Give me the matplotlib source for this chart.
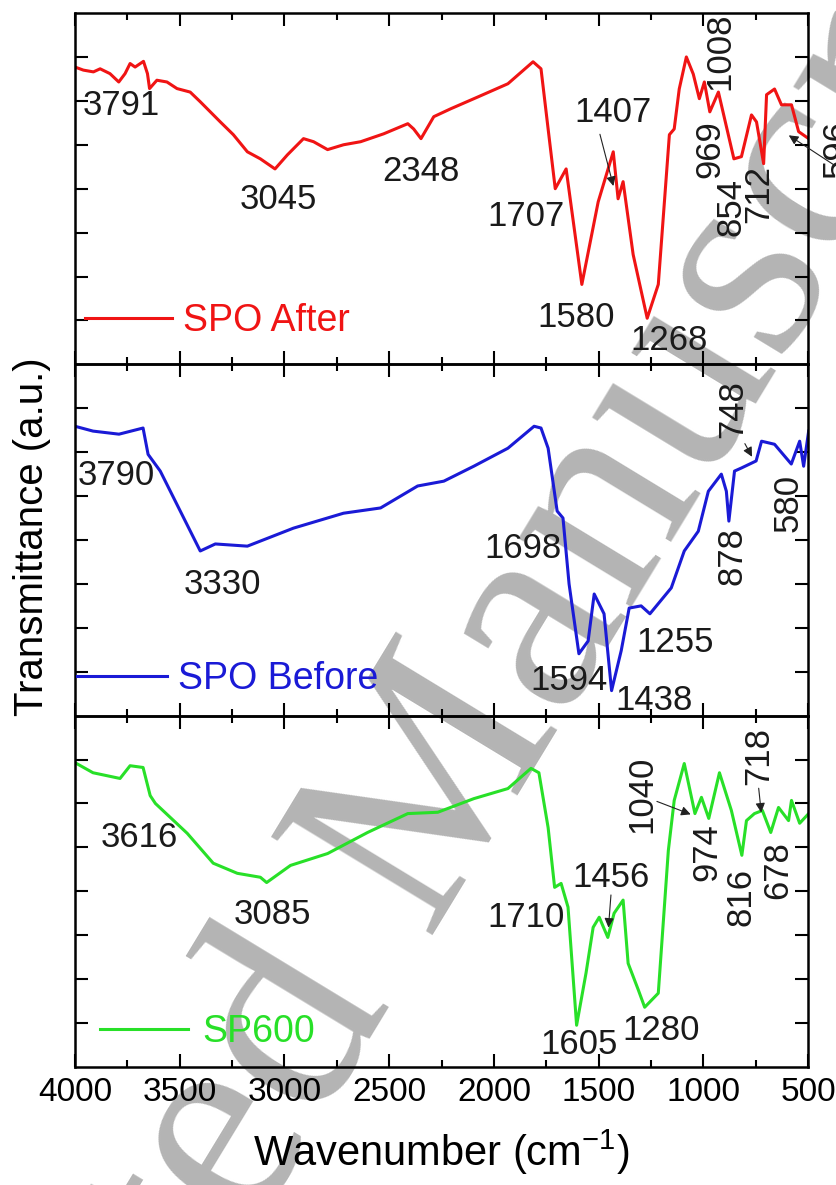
import matplotlib.pyplot as plt
from matplotlib.ticker import MultipleLocator

plt.rcParams['font.family'] = ['Liberation Sans', 'DejaVu Sans']
plt.rcParams['mathtext.default'] = 'regular'

# FTIR spectra (wavenumber in cm^-1, transmittance in a.u.)
wn_after = [4000, 3960, 3912, 3880, 3833, 3791, 3761, 3737, 3713, 3673, 3654, 3644,
            3609, 3561, 3513, 3450, 3402, 3306, 3244, 3177, 3115, 3045, 2986, 2909,
            2861, 2794, 2718, 2636, 2526, 2411, 2383, 2348, 2287, 2206, 2076, 1933,
            1813, 1775, 1741, 1707, 1655, 1580, 1502, 1430, 1407, 1383, 1335, 1268,
            1215, 1162, 1139, 1115, 1081, 1048, 1019, 995, 969, 928, 854, 818, 770,
            746, 712, 698, 660, 627, 579, 545, 497]
t_after = [6.77, 6.70, 6.66, 6.73, 6.62, 6.43, 6.62, 6.85, 6.77, 6.90, 6.62, 6.28,
           6.47, 6.43, 6.28, 6.20, 5.98, 5.52, 5.23, 4.84, 4.68, 4.45, 4.77, 5.14,
           5.07, 4.89, 5.00, 5.07, 5.25, 5.48, 5.36, 5.14, 5.64, 5.82, 6.09, 6.39,
           6.89, 6.73, 5.36, 4.00, 4.45, 1.82, 3.70, 4.84, 3.77, 4.16, 2.50, 1.05,
           1.82, 5.23, 5.36, 6.27, 7.00, 6.61, 6.05, 6.43, 5.75, 6.20, 4.68, 4.73,
           5.68, 5.52, 4.57, 6.14, 6.27, 5.91, 5.91, 5.30, 5.14]

wn_before = [4000, 3914, 3790, 3675, 3651, 3593, 3402, 3330, 3177, 2957, 2718, 2541,
             2364, 2239, 2096, 1933, 1808, 1775, 1741, 1698, 1670, 1641, 1594, 1550,
             1521, 1474, 1438, 1392, 1354, 1297, 1255, 1153, 1091, 1024, 976, 914,
             890, 878, 851, 818, 748, 722, 660, 580, 540, 521, 497]
t_before = [6.59, 6.48, 6.41, 6.55, 5.95, 5.57, 3.75, 3.91, 3.86, 4.27, 4.61, 4.73,
            5.23, 5.34, 5.68, 6.09, 6.59, 6.55, 6.09, 4.66, 4.50, 3.00, 1.41, 1.70,
            2.77, 2.32, 0.57, 1.48, 2.45, 2.50, 2.32, 2.91, 3.75, 4.20, 5.11, 5.50,
            5.11, 4.43, 5.57, 5.64, 5.80, 6.25, 6.18, 5.73, 6.25, 5.68, 6.48]

wn_sp600 = [4000, 3914, 3785, 3737, 3675, 3641, 3616, 3464, 3340, 3225, 3115, 3085,
            2971, 2794, 2603, 2411, 2268, 2096, 1933, 1823, 1785, 1741, 1710, 1679,
            1646, 1605, 1560, 1526, 1497, 1456, 1426, 1383, 1359, 1310, 1280, 1215,
            1167, 1139, 1091, 1040, 1009, 974, 923, 866, 816, 794, 756, 718, 678,
            641, 593, 579, 540, 497]
t_sp600 = [6.93, 6.70, 6.57, 6.86, 6.82, 6.18, 6.00, 5.32, 4.64, 4.41, 4.32, 4.20,
           4.59, 4.86, 5.34, 5.77, 5.80, 6.11, 6.34, 6.80, 6.70, 5.45, 4.09, 4.18,
           3.64, 0.95, 2.14, 3.18, 3.41, 2.95, 3.50, 3.80, 2.36, 1.75, 1.36, 1.68,
           4.93, 6.07, 6.91, 5.77, 6.14, 5.66, 6.70, 5.84, 4.82, 5.61, 5.77, 5.84,
           5.34, 5.91, 5.61, 6.07, 5.55, 5.77]

# peak labels: (text, x, y, rotation)
peaks_after = [('3791', 3780, 5.89, 0), ('3045', 3029, 3.75, 0), ('2348', 2349, 4.39, 0),
               ('1707', 1847, 3.36, 0), ('1407', 1430, 5.73, 0), ('1580', 1607, 1.07, 0),
               ('1268', 1162, 0.55, 0), ('969', 971, 4.91, 90), ('1008', 919, 7.14, 90),
               ('854', 866, 3.59, 90), ('712', 737, 3.89, 90), ('596', 363, 4.91, 90)]
peaks_before = [('3790', 3804, 5.48, 0), ('3330', 3297, 2.98, 0), ('1698', 1861, 3.80, 0),
                ('1594', 1641, 0.80, 0), ('1438', 1234, 0.34, 0), ('1255', 1134, 1.66, 0),
                ('878', 861, 3.64, 90), ('748', 861, 6.98, 90), ('580', 593, 4.84, 90)]
peaks_sp600 = [('3616', 3694, 5.23, 0), ('3085', 3057, 3.48, 0), ('1710', 1847, 3.41, 0),
               ('1456', 1440, 4.32, 0), ('1605', 1593, 0.52, 0), ('1280', 1201, 0.84, 0),
               ('1040', 1292, 6.20, 90), ('974', 981, 4.89, 90), ('816', 818, 3.86, 90),
               ('678', 646, 4.48, 90), ('718', 737, 7.09, 90)]

# arrows: (tail, head)
arrows_after = [((1497, 5.30), (1426, 4.0)), ((363, 4.5), (603, 5.25))]
arrows_before = [((808, 6.25), (761, 5.84))]
arrows_sp600 = [((1440, 3.98), (1454, 3.11)), ((1234, 6.07), (1048, 5.73)),
                ((737, 6.41), (722, 5.73))]

panels = [
    (wn_after, t_after, '#f01414', 'SPO After', peaks_after, arrows_after, (0.014, 0.123), 2.3, 0.3),
    (wn_before, t_before, '#1a1ad6', 'SPO Before', peaks_before, arrows_before, (0.003, 0.105), 2.4, 0.28),
    (wn_sp600, t_sp600, '#28e028', 'SP600', peaks_sp600, arrows_sp600, (0.034, 0.10), 2.35, 0.37),
]

fig, axes = plt.subplots(3, 1, sharex=True, figsize=(8.37, 11.85), dpi=100)
fig.subplots_adjust(left=0.0896, right=0.9654, bottom=0.0996, top=0.989, hspace=0)

for ax, (wn, tr, color, name, peaks, arrows, lpos, hlen, hpad) in zip(axes, panels):
    ax.set_facecolor('none')
    ax.plot(wn, tr, color=color, lw=2.2, label=name)
    for txt, x, y, rot in peaks:
        ax.text(x, y, txt, ha='center', va='center', rotation=rot, fontsize=25, color='#1a1a1a')
    for tail, head in arrows:
        ax.annotate('', xy=head, xytext=tail,
                    arrowprops=dict(arrowstyle='-|>', color='#222222', lw=0.8, mutation_scale=14))
    ax.legend(loc='center left', bbox_to_anchor=lpos, frameon=False, fontsize=27,
              handlelength=hlen, handletextpad=hpad, borderpad=0, borderaxespad=0,
              labelcolor='linecolor')
    ax.set_xlim(4000, 500)
    ax.set_ylim(0, 8)
    ax.xaxis.set_major_locator(MultipleLocator(500))
    ax.xaxis.set_minor_locator(MultipleLocator(250))
    ax.set_yticks(range(1, 8))
    ax.tick_params(axis='x', which='major', direction='in', top=True, bottom=True,
                   length=9.5, width=1.5, labelsize=24, pad=7)
    ax.tick_params(axis='x', which='minor', direction='in', top=True, bottom=True,
                   length=5, width=1.5)
    ax.tick_params(axis='y', which='major', direction='in', left=True, right=True,
                   length=9.5, width=1.5, labelleft=False)
    for sp in ax.spines.values():
        sp.set_linewidth(1.8)

axes[-1].set_xlabel('Wavenumber (cm$^{-1}$)', fontsize=30, labelpad=14)
fig.text(0.038, 0.547, 'Transmittance (a.u.)', rotation=90, ha='center', va='center', fontsize=29)

# journal watermark behind the spectra
fig.text(0.560, 0.261, 'Accepted Manuscript', rotation=58.7, rotation_mode='anchor',
         ha='center', va='baseline', fontsize=208, family='Liberation Serif',
         color='#b4b4b4', zorder=-1)

fig.savefig('out.png', dpi=100, facecolor='white')
